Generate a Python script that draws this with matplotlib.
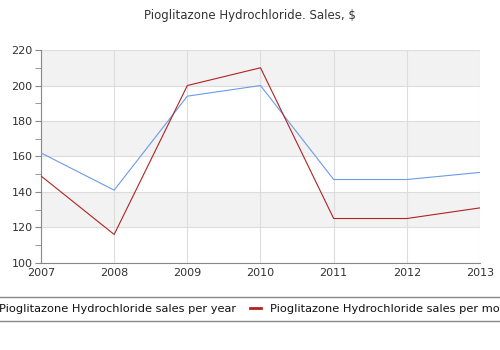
import matplotlib
matplotlib.use("Agg")
import matplotlib.pyplot as plt
from matplotlib.lines import Line2D
from matplotlib.ticker import MultipleLocator

years = [2007, 2008, 2009, 2010, 2011, 2012, 2013]
per_year = [162, 141, 194, 200, 147, 147, 151]
per_month = [149, 116, 200, 210, 125, 125, 131]
labels = ["Pioglitazone Hydrochloride sales per year",
          "Pioglitazone Hydrochloride sales per month"]

fig = plt.figure(figsize=(5, 3.5), dpi=100)
ax = fig.add_axes([0.082, 0.249, 0.878, 0.608])

# alternating bands
for lo in range(100, 220, 20):
    if (lo // 20) % 2 == 0:
        ax.axhspan(lo, lo + 20, color="#f2f2f2", zorder=0, lw=0)

ax.plot(years, per_year, color="#6c9be8", lw=0.8, label=labels[0], zorder=3)
ax.plot(years, per_month, color="#b22222", lw=0.8, label=labels[1], zorder=3)

ax.set_xlim(2007, 2013)
ax.set_ylim(100, 220)
ax.set_xticks(years)
ax.yaxis.set_major_locator(MultipleLocator(20))
ax.yaxis.set_minor_locator(MultipleLocator(10))
ax.grid(True, which="major", color="#dddddd", lw=0.8, zorder=1)
for s in ["top", "right"]:
    ax.spines[s].set_visible(False)
ax.spines["left"].set_color("#888888")
ax.spines["bottom"].set_color("#888888")
ax.tick_params(axis="y", which="both", color="#888888", labelsize=8,
               labelcolor="#333333", length=4, pad=2)
ax.tick_params(axis="x", length=0, labelsize=8, labelcolor="#333333", pad=4)

fig.text(0.5, 0.955, "Pioglitazone Hydrochloride. Sales, $", ha="center",
         va="center", fontsize=8.5, color="#333333")

fig.add_artist(Line2D([0, 1], [1 - 297 / 350] * 2, color="#888888", lw=1))
fig.add_artist(Line2D([0, 1], [1 - 321 / 350] * 2, color="#888888", lw=1))
fig.legend(loc="center", bbox_to_anchor=(0.497, 1 - 309 / 350), ncol=2,
           frameon=False, fontsize=8.2, handlelength=1.0, columnspacing=1.2,
           handletextpad=0.8, labelcolor="#111111")
for h in fig.legends[0].legend_handles:
    h.set_linewidth(2)

fig.savefig("out.png", dpi=100)
